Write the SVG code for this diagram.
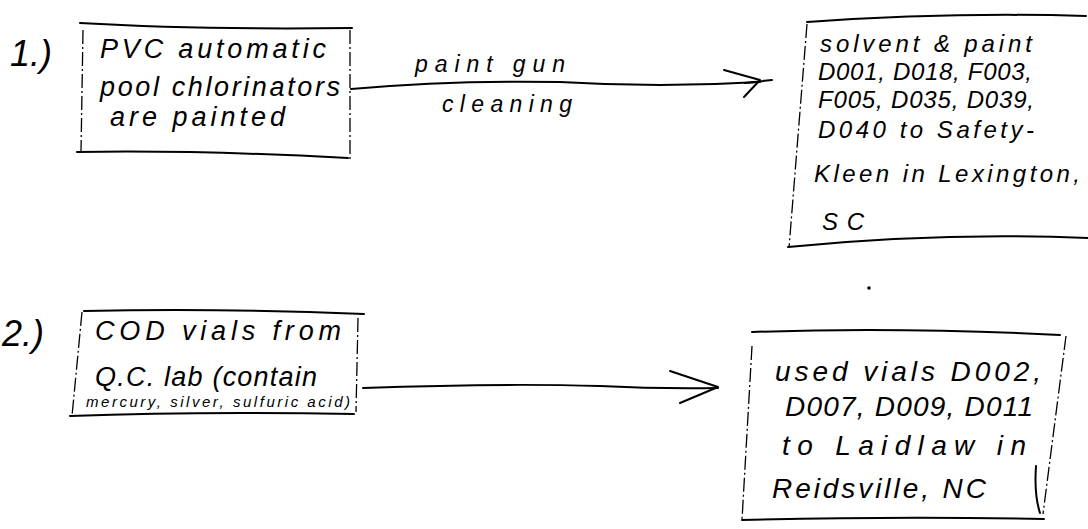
<svg xmlns="http://www.w3.org/2000/svg" width="1088" height="529" viewBox="0 0 1088 529">
<style>
.bx{fill:none;stroke:#000;stroke-width:2;stroke-linecap:round;stroke-linejoin:round}
.ed{fill:none;stroke:#000;stroke-width:1.3;stroke-dasharray:14 3 2 3}
.t{font-family:"Liberation Sans","DejaVu Sans",sans-serif;font-style:italic;font-size:22px;fill:#000}
.c{fill:none;stroke:#000;stroke-width:2;stroke-linecap:round;stroke-linejoin:round}
</style>
<rect width="1088" height="529" fill="#fff"/>
<g id="label1"><text class="t" x="10" y="66" style="font-size:36px">1.)</text></g>
<g id="label2"><text class="t" x="2" y="346" style="font-size:36px">2.)</text></g>
<g id="n1">
<path class="bx" d="M80 23 Q200 30 352 28"/>
<path class="ed" d="M83 30 L81 152"/>
<path class="ed" d="M350 30 L350 162"/>
<path class="bx" d="M77 152 Q200 150 348 158"/>
<text class="t" x="100" y="58" style="font-size:27px" textLength="226">PVC automatic</text>
<text class="t" x="100" y="96" style="font-size:27px" textLength="240">pool chlorinators</text>
<text class="t" x="110" y="126" style="font-size:27px" textLength="175">are painted</text>
</g>
<g id="n2">
<path class="bx" d="M807 22 Q950 12 1086 16"/>
<path class="ed" d="M807 24 L789 248"/>
<path class="bx" d="M788 247 Q940 232 1088 238"/>
<text class="t" x="820" y="52" style="font-size:24px" textLength="212">solvent &amp; paint</text>
<text class="t" x="818" y="80" style="font-size:24px" textLength="214">D001, D018, F003,</text>
<text class="t" x="818" y="108" style="font-size:24px" textLength="216">F005, D035, D039,</text>
<text class="t" x="818" y="138" style="font-size:24px" textLength="216">D040 to Safety-</text>
<text class="t" x="814" y="182" style="font-size:24px" textLength="266">Kleen in Lexington,</text>
<text class="t" x="822" y="230" style="font-size:24px" textLength="42">SC</text>
</g>
<g id="n3">
<path class="bx" d="M84 311 Q220 308 364 314"/>
<path class="ed" d="M82 312 L72 416"/>
<path class="ed" d="M358 318 L356 412"/>
<path class="bx" d="M70 416 Q200 411 354 414"/>
<text class="t" x="95" y="340" style="font-size:27px" textLength="246">COD vials from</text>
<text class="t" x="95" y="386" style="font-size:27px" textLength="222">Q.C. lab (contain</text>
<text class="t" x="86" y="407" style="font-size:15px" textLength="264">mercury, silver, sulfuric acid)</text>
</g>
<g id="n4">
<path class="bx" d="M752 332 Q900 327 1060 335"/>
<path class="ed" d="M752 346 L742 520"/>
<path class="ed" d="M1066 336 L1043 514"/>
<path class="bx" d="M742 520 Q900 516 1044 519"/>
<path class="c" d="M1036 466 Q1034 495 1040 513"/>
<text class="t" x="775" y="381" style="font-size:28px" textLength="266">used vials D002,</text>
<text class="t" x="785" y="416" style="font-size:28px" textLength="248">D007, D009, D011</text>
<text class="t" x="782" y="455" style="font-size:28px" textLength="244">to Laidlaw in</text>
<text class="t" x="772" y="498" style="font-size:28px" textLength="214">Reidsville, NC</text>
</g>
<g id="connectors">
<path class="c" d="M351 89 Q450 80 560 82 Q660 88 760 82"/>
<path class="c" d="M724 70 L760 80 L744 97"/>
<path class="c" d="M745 83 L772 80"/>
<text class="t" x="415" y="72" style="font-size:23px" textLength="150">paint gun</text>
<text class="t" x="442" y="112" style="font-size:23px" textLength="130">cleaning</text>
<path class="c" d="M363 388 Q500 383 600 386 Q660 389 718 388"/>
<path class="c" d="M670 371 L718 387 L680 403"/>
</g>
<circle cx="869" cy="288" r="1.8" fill="#000"/>
</svg>
